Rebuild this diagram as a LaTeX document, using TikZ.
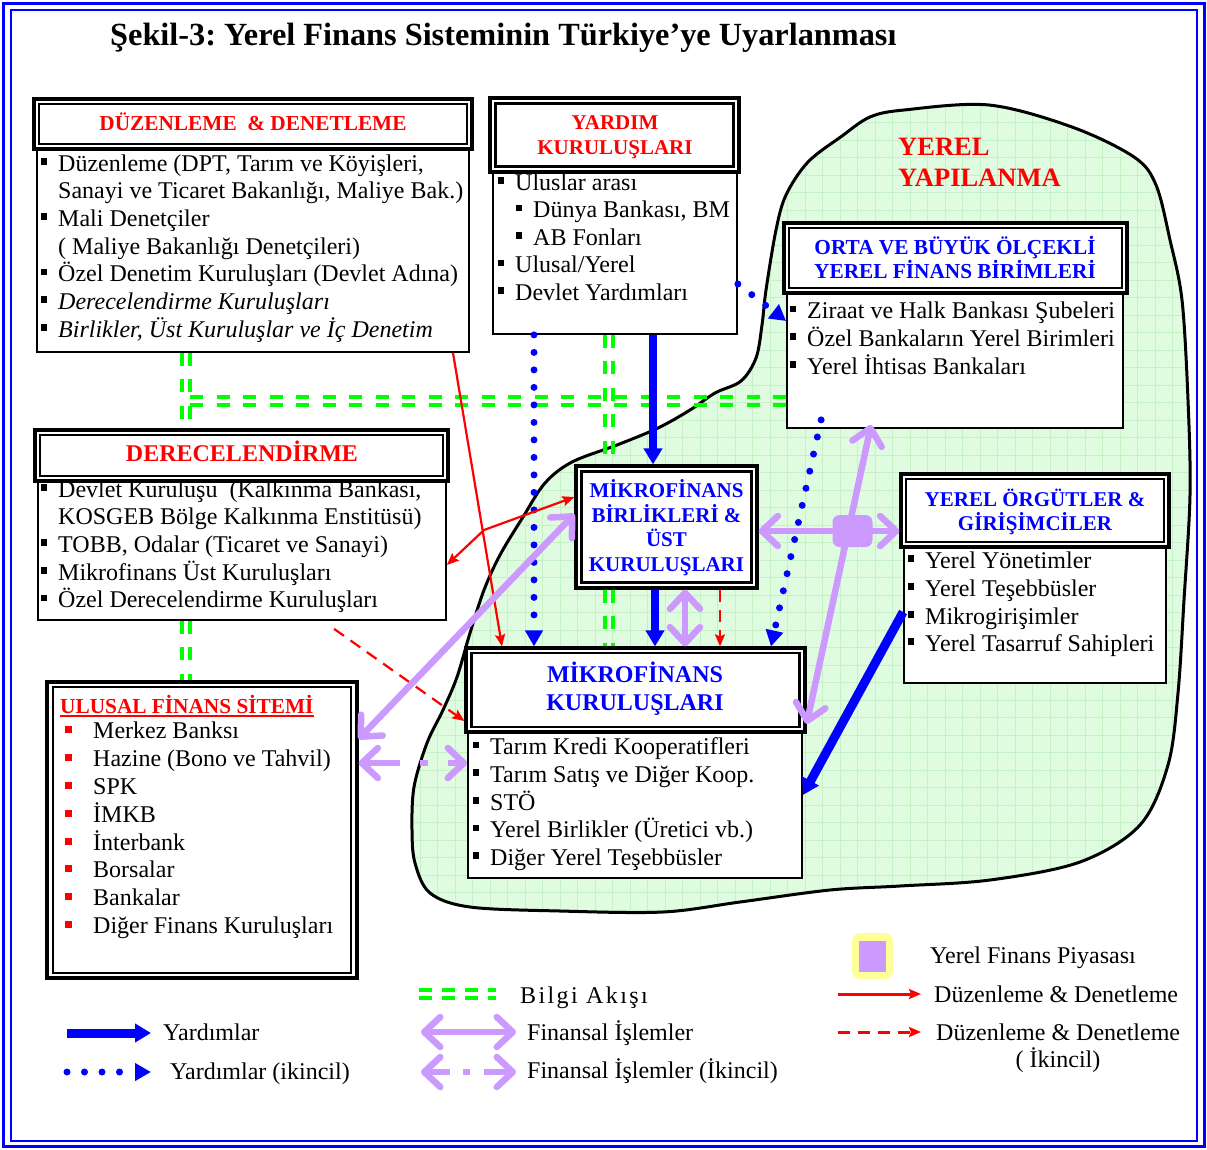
\documentclass[tikz,border=0pt]{standalone}
\usepackage{fontspec}
\setmainfont{Liberation Serif}
\usetikzlibrary{arrows.meta,calc}
\frenchspacing
\definecolor{lavc}{RGB}{204,153,255}
\definecolor{grn}{RGB}{0,255,0}
\definecolor{blu}{RGB}{0,0,255}
\definecolor{rd}{RGB}{255,0,0}
\definecolor{blobfill}{RGB}{224,252,224}
\definecolor{blobgrid}{RGB}{198,240,198}
\definecolor{legyel}{RGB}{255,255,153}
\newcommand{\bsq}{\llap{\rule[0.27em]{0.27em}{0.27em}\hspace{11pt}}}
\newcommand{\bsqr}{\llap{\textcolor{rd}{\rule[0.22em]{0.29em}{0.29em}}\hspace{21pt}}}
\tikzset{
 hdrout/.style={draw, line width=3.2pt, fill=white, inner sep=0pt},
 hdrin/.style={draw, line width=2.2pt, inner sep=0pt},
 bodybox/.style={draw, line width=1.8pt, fill=white, inner sep=0pt},
 btxt/.style={anchor=base west, inner sep=0pt, font=\fontsize{24}{28}\selectfont},
 htxt/.style={anchor=base, inner sep=0pt, font=\bfseries\fontsize{21.3}{25}\selectfont},
 gline/.style={draw=grn, line width=4pt, dash pattern=on 13pt off 13.5pt},
 bthick/.style={draw=blu, line width=8pt, -{Triangle[length=16pt,width=18pt]}},
 bdot/.style={draw=blu, line width=7pt, line cap=round, dash pattern=on 0pt off 17.5pt, -{Triangle[length=16pt,width=17pt]}},
 rsolid/.style={draw=rd, line width=2.2pt, -{Stealth[length=12pt,width=10pt,inset=2pt]}},
 rboth/.style={draw=rd, line width=2.2pt, {Stealth[length=12pt,width=10pt,inset=2pt]}-{Stealth[length=12pt,width=10pt,inset=2pt]}},
 rdash/.style={rsolid, dash pattern=on 12pt off 8pt},
 lav/.style={draw=lavc, line width=6.5pt, {Straight Barb[length=16pt,width=30pt,round]}-{Straight Barb[length=16pt,width=30pt,round]}},
}
\begin{document}
\begin{tikzpicture}[x=1pt,y=-1pt]
\useasboundingbox (0,0) rectangle (1207,1149);
\fill[white] (0,0) rectangle (1207,1149);
% outer frame
\draw[blu, line width=3pt] (3,3) rectangle (1204,1146);
\draw[blu, line width=2.5pt] (11,10) rectangle (1197,1141);
% title
\node[anchor=base west, inner sep=0pt, font=\bfseries\fontsize{32.3}{36}\selectfont] (title) at (110,45) {Şekil-3: Yerel Finans Sisteminin Türkiye’ye Uyarlanması};
% blob
\begin{scope}
\clip plot[smooth cycle, tension=0.55] coordinates {(904,110) (989,105) (1072,127) (1134,157) (1156,185) (1170,240) (1182,300) (1188,400) (1190,495) (1184,600) (1178,693) (1168,765) (1140,825) (1080,862) (990,880) (900,886) (830,890) (740,902) (663,912) (560,911) (470,907) (430,893) (415,863) (412,830) (414,787) (427,743) (443,710) (457,677) (470,633) (484,590) (500,555) (523,517) (545,483) (572,462) (617,445) (658,428) (690,410) (715,393) (741,381) (756,358) (762,325) (766,290) (776,230) (786,195) (808,162) (842,136) (870,117)};
\fill[blobfill] (390,90) rectangle (1200,930);
\draw[blobgrid, line width=0.7pt, step=17.5pt] (390,90) grid (1200,930);
\end{scope}
\draw[line width=3pt, line join=round] plot[smooth cycle, tension=0.55] coordinates {(904,110) (989,105) (1072,127) (1134,157) (1156,185) (1170,240) (1182,300) (1188,400) (1190,495) (1184,600) (1178,693) (1168,765) (1140,825) (1080,862) (990,880) (900,886) (830,890) (740,902) (663,912) (560,911) (470,907) (430,893) (415,863) (412,830) (414,787) (427,743) (443,710) (457,677) (470,633) (484,590) (500,555) (523,517) (545,483) (572,462) (617,445) (658,428) (690,410) (715,393) (741,381) (756,358) (762,325) (766,290) (776,230) (786,195) (808,162) (842,136) (870,117)};
\node[anchor=base west, inner sep=0pt, text=rd, font=\bfseries\fontsize{26.5}{31}\selectfont] (yy1) at (898,155) {YEREL};
\node[anchor=base west, inner sep=0pt, text=rd, font=\bfseries\fontsize{26.5}{31}\selectfont] (yy2) at (898,186) {YAPILANMA};
% ---------- boxes ----------
% B1
\node[bodybox, minimum width=432pt, minimum height=202pt] (b1) at (253,251) {};
\node[hdrout, minimum width=438pt, minimum height=50pt] (h1) at (253,124) {};
\node[hdrin, minimum width=428pt, minimum height=40pt] (h1i) at (h1.center) {};
% B2
\node[bodybox, minimum width=244pt, minimum height=164pt] (b2) at (615,252) {};
\node[hdrout, minimum width=249pt, minimum height=74pt] (h2) at (614.5,135) {};
\node[hdrin, minimum width=238pt, minimum height=63pt] (h2i) at (h2.center) {};
% B3
\node[bodybox, minimum width=408pt, minimum height=142pt] (b3) at (242,549) {};
\node[hdrout, minimum width=413pt, minimum height=51pt] (h3) at (241.5,455.5) {};
\node[hdrin, minimum width=403pt, minimum height=41pt] (h3i) at (h3.center) {};
% B4
\node[hdrout, minimum width=310pt, minimum height=296pt] (b4) at (202,830) {};
\node[hdrin, minimum width=298pt, minimum height=286pt] (b4i) at (b4.center) {};
% B5
\node[hdrout, minimum width=181pt, minimum height=122pt] (b5) at (666.5,527) {};
\node[hdrin, line width=2.8pt, minimum width=170pt, minimum height=111pt] (b5i) at (b5.center) {};
% B6
\node[bodybox, minimum width=334pt, minimum height=148pt] (b6) at (635,804) {};
\node[hdrout, minimum width=339pt, minimum height=84pt] (h6) at (635.5,690) {};
\node[hdrin, minimum width=328pt, minimum height=74pt] (h6i) at (h6.center) {};
% B7
\node[bodybox, minimum width=336pt, minimum height=135pt] (b7) at (955,360.5) {};
\node[hdrout, minimum width=343pt, minimum height=70pt] (h7) at (955.5,258) {};
\node[hdrin, minimum width=333pt, minimum height=60pt] (h7i) at (h7.center) {};
% B8
\node[bodybox, minimum width=262pt, minimum height=141pt] (b8) at (1035,612.5) {};
\node[hdrout, minimum width=268pt, minimum height=73pt] (h8) at (1035,510.5) {};
\node[hdrin, minimum width=258pt, minimum height=63pt] (h8i) at (h8.center) {};
% ---------- header texts ----------
\node[htxt, text=rd] (t1) at (253,130) {DÜZENLEME\ \ \& DENETLEME};
\node[htxt, text=rd, font=\bfseries\fontsize{21}{25}\selectfont] (t2a) at (615,129.5) {YARDIM};
\node[htxt, text=rd, font=\bfseries\fontsize{21}{25}\selectfont] (t2b) at (615,154) {KURULUŞLARI};
\node[htxt, text=rd, font=\bfseries\fontsize{24}{28}\selectfont] (t3) at (242,461) {DERECELENDİRME};
\node[htxt, text=rd, anchor=base west] (u0) at (60,713) {ULUSAL FİNANS SİTEMİ};
\draw[rd, line width=2pt] ([yshift=-3pt]u0.base west) -- ([yshift=-3pt]u0.base east);
\node[htxt, text=blu, font=\bfseries\fontsize{21}{25}\selectfont] (t5a) at (666.5,497) {MİKROFİNANS};
\node[htxt, text=blu, font=\bfseries\fontsize{21}{25}\selectfont] (t5b) at (666.5,522) {BİRLİKLERİ \&};
\node[htxt, text=blu, font=\bfseries\fontsize{21}{25}\selectfont] (t5c) at (666.5,546) {ÜST};
\node[htxt, text=blu, font=\bfseries\fontsize{21}{25}\selectfont] (t5d) at (666.5,571) {KURULUŞLARI};
\node[htxt, text=blu, font=\bfseries\fontsize{24}{28}\selectfont] (t6a) at (635,682) {MİKROFİNANS};
\node[htxt, text=blu, font=\bfseries\fontsize{24}{28}\selectfont] (t6b) at (635,710) {KURULUŞLARI};
\node[htxt, text=blu] (t7a) at (955,254) {ORTA VE BÜYÜK ÖLÇEKLİ};
\node[htxt, text=blu] (t7b) at (955,278) {YEREL FİNANS BİRİMLERİ};
\node[htxt, text=blu, font=\bfseries\fontsize{21}{25}\selectfont] (t8a) at (1035,506) {YEREL ÖRGÜTLER \&};
\node[htxt, text=blu, font=\bfseries\fontsize{21}{25}\selectfont] (t8b) at (1035,530) {GİRİŞİMCİLER};
% ---------- body texts ----------
\node[btxt] (d1) at (58,171) {\bsq Düzenleme (DPT, Tarım ve Köyişleri,};
\node[btxt] (d2) at (58,198.7) {Sanayi ve Ticaret Bakanlığı, Maliye Bak.)};
\node[btxt] (d3) at (58,226.4) {\bsq Mali Denetçiler};
\node[btxt] (d4) at (58,254) {( Maliye Bakanlığı Denetçileri)};
\node[btxt] (d5) at (58,281.7) {\bsq Özel Denetim Kuruluşları (Devlet Adına)};
\node[btxt] (d6) at (58,309.4) {\bsq \textit{Derecelendirme Kuruluşları}};
\node[btxt] (d7) at (58,337) {\bsq \textit{Birlikler, Üst Kuruluşlar ve İç Denetim}};
\node[btxt] (y1) at (515,190) {\bsq Uluslar arası};
\node[btxt] (y2) at (533,217.5) {\bsq Dünya Bankası, BM};
\node[btxt] (y3) at (533,245) {\bsq AB Fonları};
\node[btxt] (y4) at (515,272.5) {\bsq Ulusal/Yerel};
\node[btxt] (y5) at (515,300) {\bsq Devlet Yardımları};
\node[btxt] (r1) at (58,497) {\bsq Devlet Kuruluşu\ \ (Kalkınma Bankası,};
\node[btxt] (r2) at (58,524.5) {KOSGEB Bölge Kalkınma Enstitüsü)};
\node[btxt] (r3) at (58,552) {\bsq TOBB, Odalar (Ticaret ve Sanayi)};
\node[btxt] (r4) at (58,580) {\bsq Mikrofinans Üst Kuruluşları};
\node[btxt] (r5) at (58,607.5) {\bsq Özel Derecelendirme Kuruluşları};
\node[btxt] (n1) at (93,738) {\bsqr Merkez Banksı};
\node[btxt] (n2) at (93,766) {\bsqr Hazine (Bono ve Tahvil)};
\node[btxt] (n3) at (93,794) {\bsqr SPK};
\node[btxt] (n4) at (93,822) {\bsqr İMKB};
\node[btxt] (n5) at (93,850) {\bsqr İnterbank};
\node[btxt] (n6) at (93,877) {\bsqr Borsalar};
\node[btxt] (n7) at (93,905) {\bsqr Bankalar};
\node[btxt] (n8) at (93,933) {\bsqr Diğer Finans Kuruluşları};
\node[btxt] (m1) at (490,754.5) {\bsq Tarım Kredi Kooperatifleri};
\node[btxt] (m2) at (490,782) {\bsq Tarım Satış ve Diğer Koop.};
\node[btxt] (m3) at (490,810) {\bsq STÖ};
\node[btxt] (m4) at (490,837.5) {\bsq Yerel Birlikler (Üretici vb.)};
\node[btxt] (m5) at (490,865) {\bsq Diğer Yerel Teşebbüsler};
\node[btxt] (o1) at (807,318.5) {\bsq Ziraat ve Halk Bankası Şubeleri};
\node[btxt] (o2) at (807,346) {\bsq Özel Bankaların Yerel Birimleri};
\node[btxt] (o3) at (807,374) {\bsq Yerel İhtisas Bankaları};
\node[btxt] (g1) at (925,568) {\bsq Yerel Yönetimler};
\node[btxt] (g2) at (925,596) {\bsq Yerel Teşebbüsler};
\node[btxt] (g3) at (925,624) {\bsq Mikrogirişimler};
\node[btxt] (g4) at (925,651) {\bsq Yerel Tasarruf Sahipleri};
% ---------- connectors ----------
% green info flow
\draw[gline] (181.5,0 |- b1.south) -- (181.5,0 |- h3.north);
\draw[gline] (189.5,0 |- b1.south) -- (189.5,0 |- h3.north);
\draw[gline] (181.5,0 |- b3.south) -- (181.5,0 |- b4.north);
\draw[gline] (189.5,0 |- b3.south) -- (189.5,0 |- b4.north);
\draw[gline] (190,397) -- (b7.west |- 0,397);
\draw[gline] (190,405) -- (b7.west |- 0,405);
\draw[gline] (605,0 |- b2.south) -- (605,0 |- b5.north);
\draw[gline] (613,0 |- b2.south) -- (613,0 |- b5.north);
\draw[gline] (605,0 |- b5.south) -- (605,0 |- h6.north);
\draw[gline] (613,0 |- b5.south) -- (613,0 |- h6.north);
% blue aids
\draw[bthick] (653,0 |- b2.south) -- (653,0 |- b5.north);
\draw[bthick] (655,0 |- b5.south) -- (655,0 |- h6.north);
\draw[bthick, line width=9pt] (b8.west |- 0,612) -- (b6.east |- 0,795);
\draw[bdot] (534,0 |- b2.south) -- (534,0 |- h6.north);
\draw[bdot] (b2.east |- 0,284) -- (b7.west |- 0,321);
\draw[bdot] ($(b7.south west)+(35,-9)$) -- (771,0 |- h6.north);
% red regulation
\draw[rsolid] (453,0 |- b1.south) -- (502,0 |- h6.north);
\coordinate (rk) at (484,530);
\draw[rboth] (b3.east |- 0,565) -- (rk) -- (b5.west |- 0,497);
\draw[rdash] ($(b3.south west)+(297,8)$) -- (h6.west |- 0,721);
\draw[rdash] (720,0 |- b5.south) -- (720,0 |- h6.north);
% lavender financial
\draw[lav] (b4.east |- 0,739) -- (b5.west |- 0,514);
\draw[lav, dash pattern=on 35pt off 20pt on 8pt off 20pt on 60pt] (b4.east |- 0,763) -- (b6.west |- 0,763);
\draw[lav] (685,0 |- b5.south) -- (685,0 |- h6.north);
\draw[lav] (b5.east |- 0,531) -- (h8.west |- 0,531);
\draw[lav] ($(b7.south west)+(85,-4)$) -- (h6.east |- 0,724);
\node[fill=lavc, rounded corners=7pt, minimum width=40pt, minimum height=32pt, inner sep=0pt] (mkt) at (852.5,531) {};
% ---------- legend ----------
\coordinate (L1a) at (67,1033); \coordinate (L1b) at (151,1033);
\draw[bthick, line width=9pt] (L1a) -- (L1b);
\coordinate (L2a) at (67,1072); \coordinate (L2b) at (151,1072);
\draw[bdot] (L2a) -- (L2b);
\node[btxt] (lt1) at (163,1040) {Yardımlar};
\node[btxt] (lt2) at (170,1079) {Yardımlar (ikincil)};
\coordinate (L3a) at (419,990); \coordinate (L3b) at (496,990);
\coordinate (L3c) at (419,998); \coordinate (L3d) at (496,998);
\draw[gline, dash pattern=on 13pt off 10pt] (L3a) -- (L3b);
\draw[gline, dash pattern=on 13pt off 10pt] (L3c) -- (L3d);
\node[btxt, font=\fontsize{24}{28}\selectfont\addfontfeature{LetterSpace=10}] (lt3) at (520,1003) {Bilgi Akışı};
\coordinate (L4a) at (421,1032); \coordinate (L4b) at (516,1032);
\draw[lav] (L4a) -- (L4b);
\coordinate (L5a) at (421,1072); \coordinate (L5b) at (516,1072);
\draw[lav, dash pattern=on 22pt off 13pt on 7pt off 14pt on 40pt] (L5a) -- (L5b);
\node[btxt] (lt4) at (527,1040) {Finansal İşlemler};
\node[btxt] (lt5) at (527,1078) {Finansal İşlemler (İkincil)};
\node[fill=legyel, rounded corners=8pt, minimum width=41pt, minimum height=46pt, inner sep=0pt] (ly) at (872.5,956) {};
\node[fill=lavc, minimum width=27pt, minimum height=31pt, inner sep=0pt] (lyi) at (ly.center) {};
\node[btxt] (lt6) at (930,963) {Yerel Finans Piyasası};
\coordinate (L6a) at (838,994); \coordinate (L6b) at (921,994);
\draw[rsolid, line width=3pt] (L6a) -- (L6b);
\coordinate (L7a) at (838,1032); \coordinate (L7b) at (921,1032);
\draw[rdash, line width=3pt] (L7a) -- (L7b);
\node[btxt] (lt7) at (934,1002) {Düzenleme \& Denetleme};
\node[btxt] (lt8) at (936,1040) {Düzenleme \& Denetleme};
\node[btxt, anchor=base] (lt9) at (1058,1067) {( İkincil)};
\end{tikzpicture}
\end{document}
